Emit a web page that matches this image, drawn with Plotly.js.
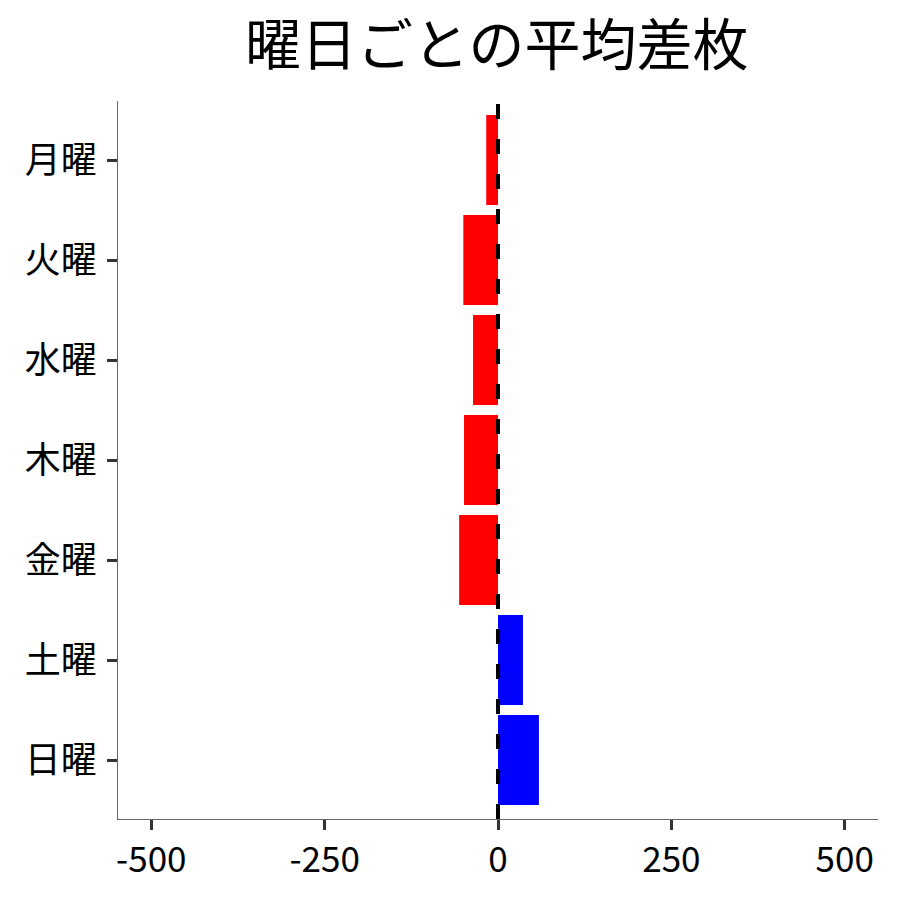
<!DOCTYPE html>
<html><head><meta charset="utf-8">
<script src="https://cdn.plot.ly/plotly-3.0.1.min.js"></script>
<style>body{margin:0;background:#fff}</style>
</head><body><div id="chart" style="width:900px;height:900px"></div>
<script>
const days = ["月曜","火曜","水曜","木曜","金曜","土曜","日曜"];
const avgDiff = [-17, -50, -36, -49, -56, 36, 59];
const barColors = avgDiff.map(v => v < 0 ? "#FF0000" : "#0000FF");
const xTicks = [-500, -250, 0, 250, 500];

const font = "Noto Sans CJK JP";
Plotly.newPlot("chart", [{
  type: "bar", orientation: "h",
  y: days, x: avgDiff,
  width: 0.9,
  marker: {color: barColors, line: {width: 0}},
  hoverinfo: "x+y"
}], {
  width: 900, height: 900,
  margin: {l: 118, r: 22, t: 101, b: 81},
  paper_bgcolor: "#fff", plot_bgcolor: "#fff",
  title: {text: "曜日ごとの平均差枚", font: {family: font, size: 56, color: "#000"}, x: 0.552, xanchor: "center", y: 0.95, yanchor: "middle"},
  showlegend: false,
  xaxis: {
    range: [-548, 548], tickvals: xTicks, ticktext: xTicks.map(String),
    showgrid: false, zeroline: false, showline: true, linecolor: "#666", linewidth: 1,
    ticks: "outside", ticklen: 10, tickwidth: 3, tickcolor: "#333",
    tickfont: {family: font, size: 35, color: "#000"}
  },
  yaxis: {
    type: "category", categoryorder: "array", categoryarray: days,
    range: [6.59, -0.59], autorange: false,
    showgrid: false, zeroline: false, showline: true, linecolor: "#666", linewidth: 1,
    ticks: "outside", ticklen: 10, tickwidth: 3, tickcolor: "#333", ticklabelstandoff: 3,
    tickfont: {family: font, size: 36, color: "#000"}
  },
  shapes: [{
    type: "line", xref: "x", yref: "paper", x0: 0, x1: 0, y0: 0, y1: 1,
    line: {color: "#000", width: 4, dash: "15px,20px"}, layer: "above"
  }]
}, {staticPlot: true});
</script></body></html>
